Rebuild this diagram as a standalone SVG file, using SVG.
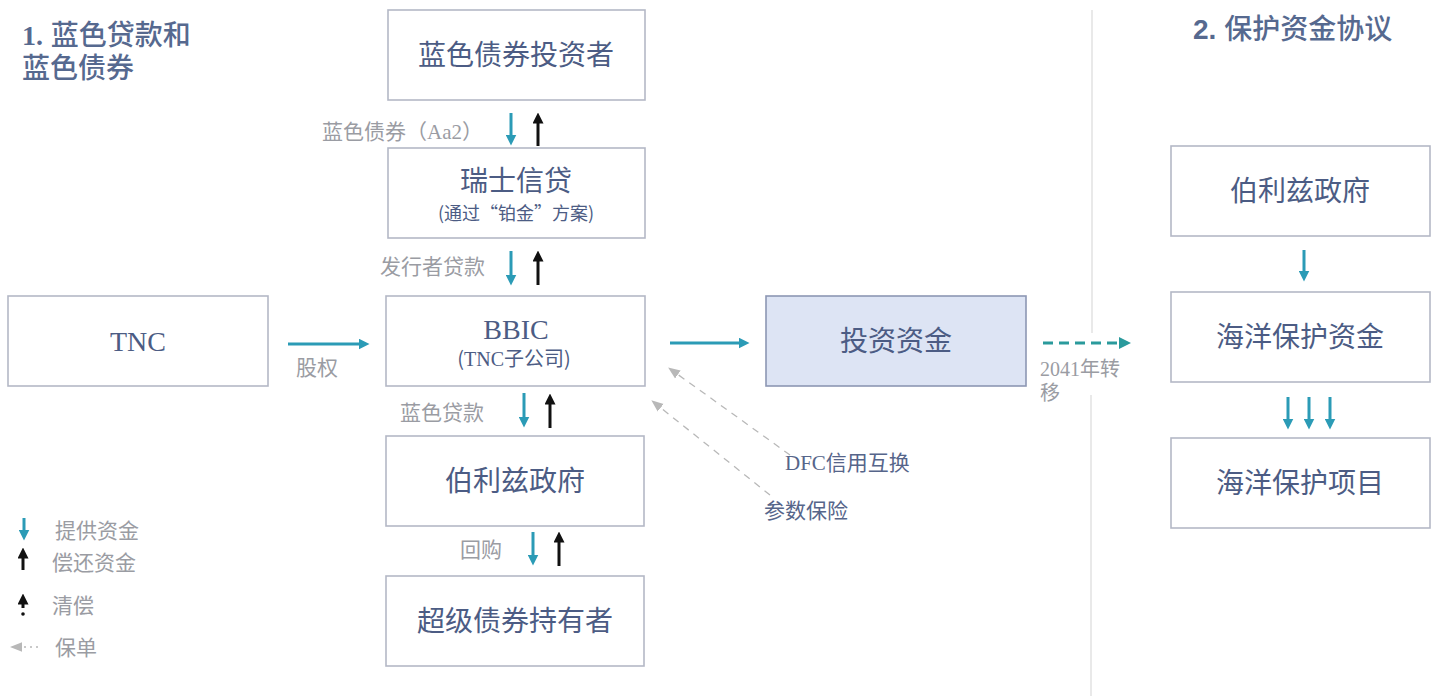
<svg xmlns="http://www.w3.org/2000/svg" width="1436" height="696" viewBox="0 0 1436 696">
<defs>
<style>
.box{fill:#ffffff;stroke:#b4b8c6;stroke-width:1.6}
.hl{fill:#dde4f4;stroke:#8d97b3;stroke-width:1.6}
.t{font-family:"Noto Sans CJK SC","Liberation Sans",sans-serif;fill:#4c5c84;text-anchor:middle}
.ts{font-family:"Liberation Serif","Noto Sans CJK SC",serif;fill:#4c5c84;text-anchor:middle}
.lbl{font-family:"Noto Sans CJK SC","Liberation Sans",sans-serif;fill:#9a9ca3;font-size:21px}
.lbs{font-family:"Liberation Serif","Noto Sans CJK SC",serif;fill:#9a9ca3;font-size:20px}
.h{font-family:"Liberation Sans","Noto Sans CJK SC",sans-serif;fill:#56698f;font-size:28px;font-weight:500}
.teal{stroke:#2b9bb6;stroke-width:3;fill:none}
.blk{stroke:#111111;stroke-width:3;fill:none}
.gd{stroke:#b8b8b8;stroke-width:1.3;stroke-dasharray:7 6;fill:none}
</style>
<marker id="mt" viewBox="0 0 10 10" refX="5" refY="5" markerWidth="11" markerHeight="11" markerUnits="userSpaceOnUse" orient="auto"><path d="M0,0 L10,5 L0,10 z" fill="#2b9bb6"/></marker>
<marker id="mtg" viewBox="0 0 10 10" refX="5" refY="5" markerWidth="12" markerHeight="12" markerUnits="userSpaceOnUse" orient="auto"><path d="M0,0 L10,5 L0,10 z" fill="#2a9a9c"/></marker>
<marker id="mb" viewBox="0 0 10 10" refX="5" refY="5" markerWidth="11" markerHeight="11" markerUnits="userSpaceOnUse" orient="auto"><path d="M0,0 L10,5 L0,10 z" fill="#111111"/></marker>
<marker id="mg" viewBox="0 0 10 10" refX="5" refY="5" markerWidth="12" markerHeight="12" markerUnits="userSpaceOnUse" orient="auto"><path d="M0,1 L10,5 L0,9 z" fill="#b8b8b8"/></marker>
</defs>

<!-- headings -->
<text class="h" x="22" y="45"><tspan font-family="Liberation Serif,serif" font-weight="bold">1.</tspan> 蓝色贷款和<tspan x="22" dy="33">蓝色债券</tspan></text>
<text class="h" x="1193" y="39"><tspan font-weight="bold">2.</tspan> 保护资金协议</text>

<!-- divider -->
<line x1="1092" y1="10" x2="1092" y2="333" stroke="#e2e2e2" stroke-width="1.5"/>
<line x1="1091" y1="395" x2="1091" y2="696" stroke="#e2e2e2" stroke-width="1.5"/>

<g id="n-investors"><rect class="box" x="388" y="10" width="257" height="90"/><text class="t" x="516" y="65" font-size="28">蓝色债券投资者</text></g>
<g id="n-cs"><rect class="box" x="388" y="148" width="257" height="90"/><text class="t" x="516" y="191" font-size="28">瑞士信贷</text><text class="t" x="516" y="220" font-size="18">(通过“铂金”方案)</text></g>
<g id="n-bbic"><rect class="box" x="386" y="296" width="259" height="90"/><text class="ts" x="516" y="339" font-size="28">BBIC</text><text class="t" x="514" y="366" font-size="20">(<tspan font-family="Liberation Serif,serif">TNC</tspan>子公司)</text></g>
<g id="n-belize1"><rect class="box" x="386" y="436" width="258" height="90"/><text class="t" x="515" y="491" font-size="28">伯利兹政府</text></g>
<g id="n-super"><rect class="box" x="386" y="576" width="258" height="90"/><text class="t" x="515" y="631" font-size="28">超级债券持有者</text></g>
<g id="n-tnc"><rect class="box" x="8" y="296" width="260" height="90"/><text class="ts" x="138" y="351" font-size="28">TNC</text></g>
<g id="n-fund"><rect class="hl" x="766" y="296" width="260" height="90"/><text class="t" x="896" y="351" font-size="28">投资资金</text></g>
<g id="n-belize2"><rect class="box" x="1171" y="146" width="259" height="90"/><text class="t" x="1300" y="201" font-size="28">伯利兹政府</text></g>
<g id="n-ocean-fund"><rect class="box" x="1171" y="292" width="259" height="90"/><text class="t" x="1300" y="347" font-size="28">海洋保护资金</text></g>
<g id="n-ocean-proj"><rect class="box" x="1171" y="438" width="259" height="90"/><text class="t" x="1300" y="493" font-size="28">海洋保护项目</text></g>

<g id="connectors">
<line class="teal" x1="511" y1="113" x2="511" y2="140" marker-end="url(#mt)"/>
<line class="blk" x1="538" y1="146" x2="538" y2="118" marker-end="url(#mb)"/>
<line class="teal" x1="511" y1="251" x2="511" y2="280" marker-end="url(#mt)"/>
<line class="blk" x1="538" y1="285" x2="538" y2="256" marker-end="url(#mb)"/>
<line class="teal" x1="524" y1="393" x2="524" y2="422" marker-end="url(#mt)"/>
<line class="blk" x1="550" y1="428" x2="550" y2="399" marker-end="url(#mb)"/>
<line class="teal" x1="533" y1="532" x2="533" y2="560" marker-end="url(#mt)"/>
<line class="blk" x1="559" y1="566" x2="559" y2="537" marker-end="url(#mb)"/>
<line class="teal" x1="288" y1="344" x2="364" y2="344" marker-end="url(#mt)"/>
<line class="teal" x1="670" y1="343" x2="744" y2="343" stroke="#2a8fa6" marker-end="url(#mt)"/>
<line x1="1043" y1="343" x2="1125" y2="343" stroke="#2a9a9c" stroke-width="3" stroke-dasharray="10 6" marker-end="url(#mtg)"/>
<line class="teal" x1="1304" y1="250" x2="1304" y2="276" stroke="#2a9aa6" marker-end="url(#mt)"/>
<line class="teal" x1="1288" y1="397" x2="1288" y2="424" marker-end="url(#mt)"/>
<line class="teal" x1="1309" y1="397" x2="1309" y2="424" marker-end="url(#mt)"/>
<line class="teal" x1="1330" y1="397" x2="1330" y2="424" stroke="#2a9aa6" marker-end="url(#mt)"/>
<line class="gd" x1="790" y1="455" x2="673" y2="371" marker-end="url(#mg)"/>
<line class="gd" x1="770" y1="495" x2="656" y2="404" marker-end="url(#mg)"/>
</g>

<!-- connector labels -->
<text class="lbl" x="322" y="139" font-size="20">蓝色债券（<tspan font-family="Liberation Serif,serif">Aa2</tspan>）</text>
<text class="lbl" x="380" y="274">发行者贷款</text>
<text class="lbl" x="296" y="375">股权</text>
<text class="lbl" x="400" y="420">蓝色贷款</text>
<text class="lbl" x="460" y="557">回购</text>
<text class="lbl" x="785" y="470" style="fill:#56658a"><tspan font-family="Liberation Serif,serif">DFC</tspan>信用互换</text>
<text class="lbl" x="764" y="518" style="fill:#56658a">参数保险</text>
<text class="lbs" x="1040" y="376">2041年转<tspan x="1040" dy="24">移</tspan></text>

<!-- legend -->
<g id="legend">
<line class="teal" x1="24" y1="518" x2="24" y2="535" stroke-width="2.5" marker-end="url(#mt)"/>
<text class="lbl" x="55" y="538">提供资金</text>
<line class="blk" x1="23" y1="570" x2="23" y2="553" stroke-width="2.5" marker-end="url(#mb)"/>
<text class="lbl" x="52" y="570">偿还资金</text>
<line class="blk" x1="23" y1="608" x2="23" y2="599" stroke-width="2.5" marker-end="url(#mb)"/>
<circle cx="23" cy="614" r="1.8" fill="#111"/>
<text class="lbl" x="52" y="613">清偿</text>
<line x1="38" y1="647" x2="16" y2="647" stroke="#b8b8b8" stroke-width="1.3" stroke-dasharray="2 4" marker-end="url(#mg)"/>
<text class="lbl" x="55" y="655">保单</text>
</g>
</svg>
